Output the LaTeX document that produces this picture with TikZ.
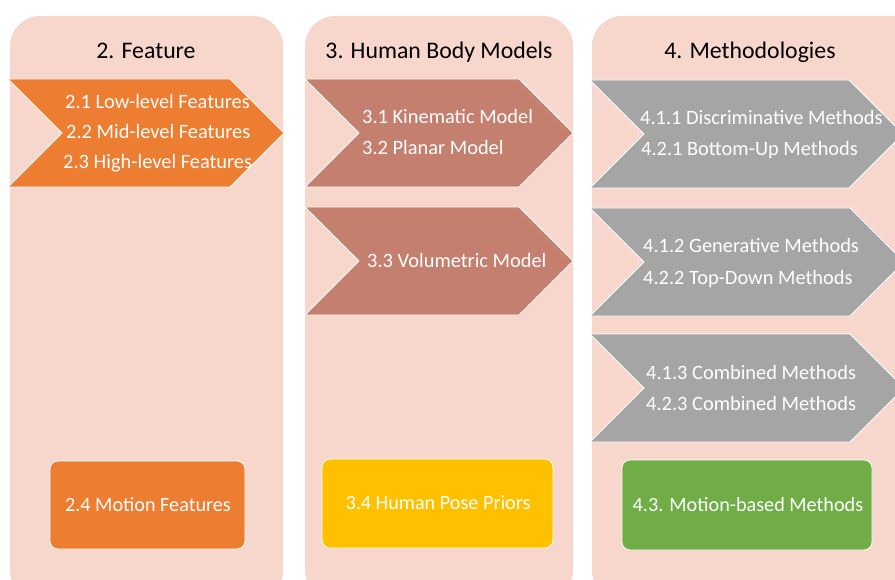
\documentclass[tikz,border=0pt]{standalone}
\usepackage{fontspec}
\setmainfont{Carlito}
\definecolor{panel}{HTML}{F7D7CC}
\definecolor{orangeC}{HTML}{ED7D31}
\definecolor{brownC}{HTML}{C47F6F}
\definecolor{grayC}{HTML}{A5A5A5}
\definecolor{yellowC}{HTML}{FFC000}
\definecolor{greenC}{HTML}{70AD47}
\tikzset{
  panelbg/.style={fill=panel, rounded corners=30bp},
  chev/.style={draw=white, line width=0.8bp},
  item/.style={text=white, font=\fontsize{20.4bp}{24bp}\selectfont, anchor=base west, inner sep=0pt},
  boxtext/.style={text=white, font=\fontsize{20.2bp}{24bp}\selectfont, anchor=base, inner sep=0pt},
  ttl/.style={text=black, font=\fontsize{23.8bp}{28bp}\selectfont, anchor=base, inner sep=0pt},
  sbox/.style={draw=white, line width=0.8bp, rounded corners=8bp},
}
\begin{document}
\begin{tikzpicture}[x=1bp,y=-1bp]
\useasboundingbox (0,0) rectangle (895,580);
\clip (0,0) rectangle (895,580);
% panels
\fill[panelbg] (10,16) rectangle (283,600);
\fill[panelbg] (305,16) rectangle (573,600);
\fill[panelbg] (592,16) rectangle (930,600);
% titles
\node[ttl] (t2) at (146,59) {2. Feature};
\node[ttl] (t3) at (439,59) {3. Human Body Models};
\node[ttl] (t4) at (750,59) {4. Methodologies};
% chevrons
\fill[chev, fill=orangeC] (8,79) -- (230,79) -- (284,133) -- (230,187) -- (8,187) -- (62,133) -- cycle;
\fill[chev, fill=brownC] (305,79) -- (519,79) -- (573,133) -- (519,187) -- (305,187) -- (359,133) -- cycle;
\fill[chev, fill=brownC] (305,207) -- (519,207) -- (573,261) -- (519,315) -- (305,315) -- (359,261) -- cycle;
\fill[chev, fill=grayC] (590,80) -- (849,80) -- (903,134) -- (849,188) -- (590,188) -- (644,134) -- cycle;
\fill[chev, fill=grayC] (590,208) -- (850,208) -- (904,262) -- (850,316) -- (590,316) -- (644,262) -- cycle;
\fill[chev, fill=grayC] (590,334) -- (850,334) -- (904,388) -- (850,442) -- (590,442) -- (644,388) -- cycle;
% chevron texts
\node[item] (i21) at (65,109) {2.1 Low-level Features};
\node[item] (i22) at (66,139) {2.2 Mid-level Features};
\node[item] (i23) at (63,169) {2.3 High-level Features};
\node[item] (i31) at (362,124) {3.1 Kinematic Model};
\node[item] (i32) at (362,155) {3.2 Planar Model};
\node[item] (i33) at (367,268) {3.3 Volumetric Model};
\node[item] (i411) at (640,125) {4.1.1 Discriminative Methods};
\node[item] (i421) at (641,156) {4.2.1 Bottom-Up Methods};
\node[item] (i412) at (643,253) {4.1.2 Generative Methods};
\node[item] (i422) at (643,284) {4.2.2 Top-Down Methods};
\node[item] (i413) at (646,379) {4.1.3 Combined Methods};
\node[item] (i423) at (646,410) {4.2.3 Combined Methods};
% bottom boxes
\filldraw[sbox, fill=orangeC] (50,461) rectangle (245,549);
\filldraw[sbox, fill=yellowC] (322,459) rectangle (553,548);
\filldraw[sbox, fill=greenC] (622,460) rectangle (872,550);
\node[boxtext] (b24) at (148,511) {2.4 Motion Features};
\node[boxtext] (b34) at (438,509) {3.4 Human Pose Priors};
\node[boxtext] (b43) at (748,511) {4.3. Motion-based Methods};
\end{tikzpicture}
\end{document}
